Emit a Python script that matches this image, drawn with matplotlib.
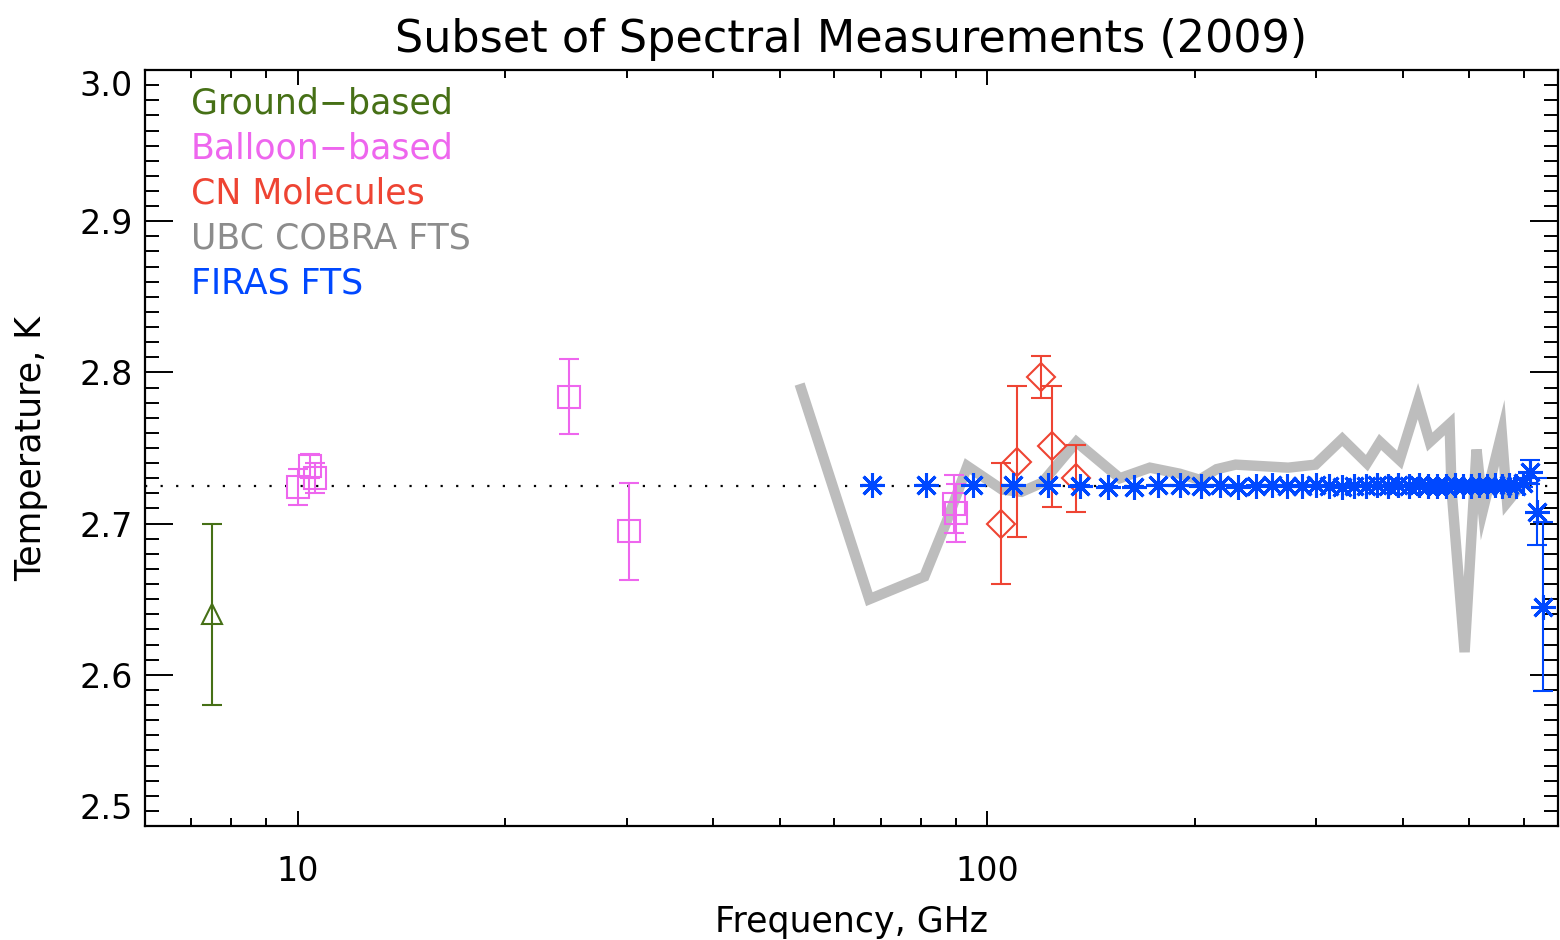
import matplotlib
matplotlib.use("Agg")
import matplotlib.pyplot as plt
from matplotlib.ticker import FixedLocator, NullFormatter, FuncFormatter

# ground-based (GHz, K, err)
ground_f = [7.5]
ground_t = [2.64]
ground_e = [0.06]

# balloon-based
balloon_f = [10.0, 10.4, 10.6, 24.7, 30.2, 89.5, 90.0]
balloon_t = [2.724, 2.738, 2.730, 2.784, 2.695, 2.713, 2.707]
balloon_e = [0.012, 0.008, 0.010, 0.025, 0.032, 0.019, 0.019]

# CN molecules
cn_f = [104.8, 110.2, 119.4, 124.2, 134.6]
cn_t = [2.700, 2.741, 2.797, 2.751, 2.730]
cn_e = [0.040, 0.050, 0.014, 0.040, 0.022]

# UBC COBRA FTS
cobra_f = [53.7, 67.4, 81.0, 87.2, 93.5, 105, 112, 120, 134.6, 155.6, 172, 190,
           203, 215, 229, 273, 299, 327, 355, 371, 396, 421, 438, 468, 471,
           492, 512, 523, 557, 567, 586]
cobra_t = [2.789, 2.650, 2.665, 2.701, 2.738, 2.7225, 2.721, 2.727, 2.754, 2.730,
           2.737, 2.733, 2.729, 2.736, 2.739, 2.737, 2.739, 2.756, 2.740, 2.754,
           2.742, 2.781, 2.754, 2.766, 2.7225, 2.615, 2.749, 2.709, 2.760, 2.714,
           2.722]

# FIRAS FTS
firas_f = [68.05, 81.54, 95.33, 108.82, 122.31, 136.10, 149.60, 163.38, 176.87,
           190.37, 204.16, 217.65, 231.14, 244.93, 258.42, 272.21, 285.70, 299.19,
           312.98, 326.47, 339.96, 353.75, 367.24, 381.03, 394.52, 408.01, 421.80,
           435.30, 448.79, 462.58, 476.07, 489.86, 503.35, 516.84, 530.63, 544.12,
           557.91, 571.40, 584.89, 598.68, 612.17, 625.66, 639.45]
firas_t = [2.7255, 2.7255, 2.7255, 2.7255, 2.7255, 2.725, 2.7245, 2.7245, 2.7255,
           2.7255, 2.725, 2.7255, 2.7245, 2.725, 2.7255, 2.725, 2.725, 2.7255,
           2.725, 2.7245, 2.725, 2.725, 2.7255, 2.725, 2.7255, 2.725, 2.7255,
           2.725, 2.725, 2.725, 2.7255, 2.725, 2.725, 2.7255, 2.725, 2.7255,
           2.725, 2.7255, 2.725, 2.727, 2.734, 2.708, 2.645]
firas_e = [0.0003] * 39 + [0.003, 0.008, 0.022, 0.056]

t_cmb = 2.725

x_major = [10, 100]
x_minor = [6, 7, 8, 9, 20, 30, 40, 50, 60, 70, 80, 90, 200, 300, 400, 500, 600]
y_major = [2.5, 2.6, 2.7, 2.8, 2.9, 3.0]
y_minor = [2.5 + 0.01 * k for k in range(51)]

green = "#467016"
magenta = "#ee66ee"
red = "#ee4433"
grey = "#bdbdbd"
blue = "#0048ff"

plt.rcParams["font.family"] = "DejaVu Sans"

fig = plt.figure(figsize=(15.6, 9.4), dpi=100)
ax = fig.add_axes([0.0929, 0.1213, 0.9058, 0.8042])

ax.set_xscale("log")
ax.set_xlim(6, 672)
ax.set_ylim(2.5, 3.0)

ax.axhline(t_cmb, color="black", lw=1.6, linestyle=(0, (1, 6)), zorder=1)

ax.plot(cobra_f, cobra_t, color=grey, lw=7.5, solid_joinstyle="miter", zorder=2)

eb = dict(capsize=7, elinewidth=1.5, capthick=1.5, mfc="none", mew=1.5, linestyle="none")
ax.errorbar(ground_f, ground_t, yerr=ground_e, fmt="^", ms=15, color=green, zorder=3, **eb)
ax.errorbar(balloon_f, balloon_t, yerr=balloon_e, fmt="s", ms=16, color=magenta, zorder=3, **eb)
ax.errorbar(cn_f, cn_t, yerr=cn_e, fmt="D", ms=14, color=red, zorder=3, **eb)
ax.errorbar(firas_f, firas_t, yerr=firas_e, fmt="none", ecolor=blue, capsize=7,
            elinewidth=1.5, capthick=1.5, zorder=4)
ax.plot(firas_f, firas_t, linestyle="none", marker=(8, 2, 0), ms=18, mew=2.2,
        color=blue, zorder=5)

# axes styling, IDL-like
for s in ax.spines.values():
    s.set_linewidth(1.6)
ax.tick_params(which="both", direction="in", top=True, right=True, width=1.4,
               labelsize=24, colors="black")
ax.tick_params(axis="x", which="major", length=11, pad=21)
ax.tick_params(axis="x", which="minor", length=6)
ax.tick_params(axis="y", which="major", length=20, pad=9)
ax.tick_params(axis="y", which="minor", length=10)

ax.xaxis.set_major_locator(FixedLocator(x_major))
ax.xaxis.set_major_formatter(FuncFormatter(lambda v, p: "%d" % v))
ax.xaxis.set_minor_locator(FixedLocator(x_minor))
ax.xaxis.set_minor_formatter(NullFormatter())
ax.yaxis.set_major_locator(FixedLocator(y_major))
ax.yaxis.set_minor_locator(FixedLocator(y_minor))
ax.yaxis.set_major_formatter(FuncFormatter(lambda v, p: "%.1f" % v))

fig.canvas.draw()
ylabs = ax.get_yticklabels()
ylabs[0].set_va("bottom")
ylabs[-1].set_va("top")

ax.set_title("Subset of Spectral Measurements (2009)", fontsize=32, pad=13)
ax.set_xlabel("Frequency, GHz", fontsize=25, labelpad=12)
ax.set_ylabel("Temperature, K", fontsize=25, labelpad=22)

names = ["Ground\u2212based", "Balloon\u2212based", "CN Molecules", "UBC COBRA FTS", "FIRAS FTS"]
cols = [green, magenta, red, "#8c8c8c", blue]
for i, (n, c) in enumerate(zip(names, cols)):
    ax.text(0.0325, 0.956 - i * 0.0595, n, color=c, fontsize=25, transform=ax.transAxes,
            ha="left", va="center")

fig.savefig("out.png", dpi=100)
